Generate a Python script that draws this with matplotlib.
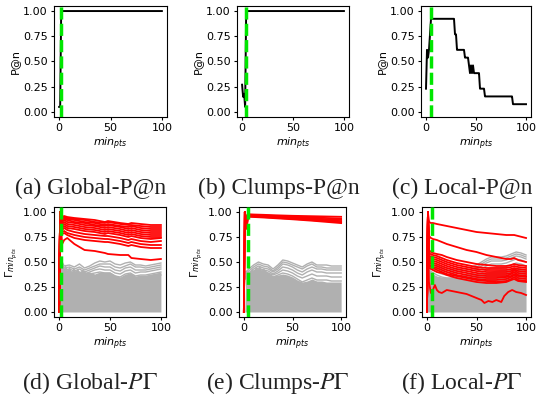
import numpy as np
import matplotlib
matplotlib.use("Agg")
import matplotlib.pyplot as plt

W, H = 537, 401

# P@n curves, stored as run lengths over min_pts = 0..100
global_pn_vals = [0.05, 1.0]
global_pn_runs = [2, 99]
clumps_pn_vals = [0.27, 0.15, 0.18, 0.05, 1.0]
clumps_pn_runs = [1, 1, 1, 1, 97]
local_pn_vals = np.array([3, 8, 7, 8, 10, 12, 10, 8, 7, 6, 5, 6, 5, 6, 5, 3, 2, 1]) / 13
local_pn_runs = [1, 1, 1, 1, 1, 24, 2, 8, 4, 1, 1, 1, 1, 1, 6, 5, 28, 14]

# vertical marker (chosen min_pts)
best_global, best_clumps, best_local = 2, 4, 5

# Global Gamma: outlier curves (red)
g_red_x = [3, 5, 8, 15, 25, 35, 45, 48, 60, 68, 71, 80, 90, 100]
g_red = [
    [0.95, 0.96, 0.95, 0.94, 0.93, 0.92, 0.90, 0.91, 0.89, 0.88, 0.89, 0.88, 0.87, 0.87],
    [0.94, 0.95, 0.94, 0.93, 0.92, 0.90, 0.89, 0.90, 0.88, 0.87, 0.87, 0.86, 0.85, 0.85],
    [0.93, 0.94, 0.93, 0.92, 0.90, 0.89, 0.87, 0.88, 0.86, 0.85, 0.86, 0.84, 0.83, 0.83],
    [0.92, 0.93, 0.92, 0.90, 0.89, 0.87, 0.86, 0.87, 0.85, 0.83, 0.84, 0.82, 0.81, 0.81],
    [0.90, 0.92, 0.90, 0.89, 0.87, 0.86, 0.84, 0.85, 0.83, 0.81, 0.82, 0.80, 0.79, 0.79],
    [0.88, 0.90, 0.88, 0.87, 0.85, 0.84, 0.82, 0.83, 0.81, 0.79, 0.80, 0.78, 0.77, 0.77],
    [0.86, 0.88, 0.86, 0.85, 0.83, 0.82, 0.80, 0.81, 0.79, 0.77, 0.78, 0.76, 0.75, 0.75],
    [0.84, 0.86, 0.84, 0.83, 0.81, 0.80, 0.78, 0.79, 0.77, 0.75, 0.76, 0.74, 0.73, 0.74],
    [0.82, 0.84, 0.82, 0.80, 0.78, 0.77, 0.76, 0.76, 0.74, 0.72, 0.73, 0.71, 0.70, 0.71],
    [0.80, 0.81, 0.79, 0.77, 0.75, 0.74, 0.73, 0.73, 0.71, 0.69, 0.70, 0.68, 0.67, 0.67],
    [0.78, 0.79, 0.77, 0.74, 0.72, 0.71, 0.70, 0.70, 0.68, 0.66, 0.67, 0.65, 0.64, 0.64],
    [0.68, 0.72, 0.74, 0.68, 0.62, 0.61, 0.59, 0.58, 0.57, 0.57, 0.54, 0.53, 0.52, 0.53],
]

# Clumps Gamma: outlier curves (red)
c_red_x = [2, 3, 4, 10, 20, 30, 40, 50, 60, 70, 80, 90, 100]
c_red = [
    [0.95, 0.88, 0.978, 0.975, 0.972, 0.968, 0.965, 0.962, 0.960, 0.958, 0.956, 0.954, 0.952],
    [0.94, 0.87, 0.972, 0.970, 0.966, 0.962, 0.958, 0.954, 0.950, 0.946, 0.942, 0.938, 0.934],
    [0.93, 0.86, 0.968, 0.965, 0.961, 0.956, 0.951, 0.946, 0.941, 0.936, 0.931, 0.926, 0.921],
    [0.92, 0.85, 0.963, 0.960, 0.955, 0.950, 0.945, 0.939, 0.933, 0.927, 0.921, 0.915, 0.909],
    [0.91, 0.84, 0.958, 0.955, 0.950, 0.944, 0.938, 0.932, 0.926, 0.919, 0.912, 0.905, 0.898],
    [0.90, 0.83, 0.953, 0.950, 0.945, 0.939, 0.933, 0.927, 0.920, 0.913, 0.905, 0.897, 0.889],
]

# Local Gamma: outlier curves (red)
l_red_x = [2, 4, 6, 10, 15, 20, 30, 40, 50, 60, 70, 80, 85, 88, 92, 100]
l_red = [
    [0.90, 0.89, 0.89, 0.88, 0.87, 0.86, 0.84, 0.82, 0.80, 0.79, 0.78, 0.77, 0.77, 0.77, 0.76, 0.74],
    [0.76, 0.74, 0.73, 0.72, 0.70, 0.68, 0.65, 0.62, 0.60, 0.57, 0.55, 0.53, 0.53, 0.54, 0.52, 0.50],
    [0.62, 0.60, 0.59, 0.58, 0.57, 0.55, 0.52, 0.50, 0.48, 0.47, 0.46, 0.46, 0.47, 0.48, 0.47, 0.46],
    [0.58, 0.58, 0.57, 0.56, 0.54, 0.52, 0.49, 0.47, 0.45, 0.44, 0.44, 0.44, 0.45, 0.46, 0.45, 0.44],
    [0.55, 0.56, 0.55, 0.54, 0.52, 0.50, 0.47, 0.45, 0.43, 0.42, 0.42, 0.42, 0.43, 0.44, 0.43, 0.42],
    [0.54, 0.54, 0.53, 0.52, 0.50, 0.48, 0.45, 0.43, 0.41, 0.40, 0.40, 0.40, 0.41, 0.43, 0.41, 0.40],
    [0.52, 0.52, 0.51, 0.50, 0.48, 0.46, 0.43, 0.41, 0.39, 0.38, 0.38, 0.38, 0.39, 0.42, 0.39, 0.38],
    [0.50, 0.50, 0.49, 0.48, 0.46, 0.44, 0.41, 0.39, 0.37, 0.36, 0.36, 0.36, 0.38, 0.40, 0.37, 0.36],
    [0.49, 0.48, 0.47, 0.46, 0.44, 0.42, 0.39, 0.37, 0.35, 0.34, 0.34, 0.35, 0.36, 0.38, 0.36, 0.35],
    [0.47, 0.46, 0.45, 0.44, 0.42, 0.40, 0.37, 0.35, 0.33, 0.32, 0.32, 0.33, 0.35, 0.37, 0.34, 0.33],
    [0.46, 0.45, 0.44, 0.42, 0.40, 0.38, 0.36, 0.34, 0.32, 0.31, 0.30, 0.31, 0.33, 0.35, 0.32, 0.31],
    [0.44, 0.43, 0.42, 0.40, 0.39, 0.37, 0.34, 0.32, 0.30, 0.29, 0.29, 0.30, 0.32, 0.33, 0.31, 0.30],
]
l_low_x = [2, 4, 6, 8, 10, 12, 15, 20, 25, 30, 35, 40, 45, 50, 55, 58, 62, 66, 70, 75, 78, 82, 86, 90, 95, 100]
l_low = [0.30, 0.19, 0.22, 0.27, 0.22, 0.20, 0.19, 0.22, 0.21, 0.20, 0.19, 0.18, 0.16, 0.14,
         0.12, 0.09, 0.11, 0.10, 0.12, 0.10, 0.16, 0.20, 0.22, 0.20, 0.19, 0.17]

# inlier curves (grey): dense lower body + top few curves
gray_x = [2, 5, 10, 15, 20, 25, 30, 35, 40, 45, 50, 55, 60, 65, 70, 75, 80, 85, 90, 95, 100]
g_body_x = [0, 1, 2, 4, 6, 8, 10, 12, 14, 16, 18, 20, 23, 26, 30, 35, 40, 45, 50, 55, 60, 65, 70, 75, 80, 85, 90, 95, 100]
g_body = [0, 0.55, 0.50, 0.42, 0.48, 0.42, 0.46, 0.40, 0.45, 0.41, 0.44, 0.40, 0.43, 0.40, 0.40,
          0.38, 0.40, 0.40, 0.40, 0.37, 0.35, 0.38, 0.39, 0.36, 0.37, 0.37, 0.38, 0.39, 0.40]
g_gray = [
    [0.52, 0.46, 0.47, 0.45, 0.48, 0.44, 0.46, 0.49, 0.51, 0.50, 0.51, 0.48, 0.47, 0.49, 0.50, 0.47, 0.47, 0.46, 0.47, 0.48, 0.49],
    [0.50, 0.44, 0.45, 0.43, 0.45, 0.42, 0.44, 0.46, 0.48, 0.48, 0.48, 0.45, 0.44, 0.46, 0.48, 0.45, 0.45, 0.44, 0.45, 0.46, 0.47],
    [0.48, 0.42, 0.43, 0.41, 0.43, 0.40, 0.42, 0.44, 0.46, 0.45, 0.45, 0.42, 0.41, 0.44, 0.45, 0.42, 0.42, 0.42, 0.43, 0.44, 0.45],
    [0.46, 0.40, 0.41, 0.39, 0.40, 0.38, 0.40, 0.42, 0.43, 0.42, 0.42, 0.39, 0.38, 0.41, 0.42, 0.39, 0.40, 0.40, 0.41, 0.42, 0.43],
    [0.44, 0.39, 0.39, 0.37, 0.38, 0.36, 0.38, 0.39, 0.40, 0.39, 0.39, 0.36, 0.35, 0.38, 0.39, 0.36, 0.37, 0.37, 0.38, 0.39, 0.40],
    [0.42, 0.37, 0.37, 0.35, 0.36, 0.34, 0.35, 0.36, 0.37, 0.36, 0.36, 0.33, 0.32, 0.35, 0.36, 0.33, 0.34, 0.34, 0.35, 0.36, 0.37],
]
c_body_x = [1, 2, 4, 6, 8, 10, 12, 14, 16, 18, 20, 23, 26, 30, 35, 40, 45, 50, 55, 60, 65, 70, 75, 80, 85, 90, 95, 100]
c_body = [0, 0.40, 0.42, 0.40, 0.44, 0.41, 0.46, 0.43, 0.47, 0.42, 0.44, 0.41, 0.39, 0.36, 0.37,
          0.38, 0.37, 0.35, 0.32, 0.30, 0.31, 0.33, 0.31, 0.31, 0.30, 0.30, 0.30, 0.30]
c_gray = [
    [0.40, 0.43, 0.47, 0.50, 0.48, 0.47, 0.43, 0.47, 0.52, 0.51, 0.49, 0.47, 0.45, 0.48, 0.50, 0.47, 0.47, 0.47, 0.46, 0.46, 0.46],
    [0.38, 0.41, 0.45, 0.48, 0.46, 0.45, 0.41, 0.45, 0.50, 0.49, 0.47, 0.45, 0.43, 0.46, 0.48, 0.45, 0.45, 0.44, 0.44, 0.44, 0.44],
    [0.36, 0.39, 0.43, 0.46, 0.44, 0.43, 0.40, 0.43, 0.48, 0.47, 0.45, 0.42, 0.40, 0.43, 0.45, 0.43, 0.43, 0.42, 0.42, 0.42, 0.42],
    [0.35, 0.38, 0.41, 0.44, 0.42, 0.41, 0.38, 0.41, 0.45, 0.44, 0.42, 0.39, 0.37, 0.40, 0.42, 0.40, 0.40, 0.39, 0.39, 0.39, 0.39],
    [0.34, 0.37, 0.40, 0.42, 0.40, 0.39, 0.37, 0.39, 0.42, 0.41, 0.39, 0.36, 0.34, 0.36, 0.38, 0.36, 0.36, 0.36, 0.35, 0.35, 0.35],
    [0.33, 0.36, 0.38, 0.40, 0.38, 0.37, 0.35, 0.37, 0.39, 0.38, 0.36, 0.33, 0.30, 0.32, 0.34, 0.32, 0.32, 0.32, 0.31, 0.31, 0.31],
]
l_body_x = [0, 1, 2, 4, 6, 10, 15, 20, 30, 40, 50, 60, 70, 80, 90, 100]
l_body = [0, 0.45, 0.42, 0.40, 0.38, 0.36, 0.35, 0.35, 0.36, 0.36, 0.38, 0.40, 0.42, 0.43, 0.45, 0.43]
l_gray = [
    [0.52, 0.50, 0.47, 0.45, 0.44, 0.43, 0.43, 0.43, 0.44, 0.45, 0.47, 0.50, 0.53, 0.55, 0.55, 0.55, 0.56, 0.58, 0.60, 0.59, 0.57],
    [0.50, 0.48, 0.45, 0.43, 0.42, 0.41, 0.41, 0.41, 0.42, 0.43, 0.45, 0.48, 0.51, 0.53, 0.53, 0.53, 0.54, 0.56, 0.58, 0.57, 0.55],
    [0.48, 0.46, 0.43, 0.41, 0.40, 0.39, 0.39, 0.39, 0.40, 0.41, 0.43, 0.46, 0.49, 0.51, 0.51, 0.51, 0.52, 0.54, 0.56, 0.55, 0.53],
    [0.45, 0.43, 0.40, 0.38, 0.37, 0.36, 0.36, 0.36, 0.37, 0.38, 0.40, 0.43, 0.46, 0.48, 0.48, 0.48, 0.49, 0.51, 0.53, 0.52, 0.50],
    [0.42, 0.40, 0.37, 0.35, 0.34, 0.33, 0.33, 0.33, 0.34, 0.35, 0.37, 0.39, 0.42, 0.44, 0.44, 0.44, 0.45, 0.47, 0.49, 0.48, 0.46],
]

captions_top = ["(a) Global-P@n", "(b) Clumps-P@n", "(c) Local-P@n"]
captions_bot = [r"(d) Global-$P\Gamma$", r"(e) Clumps-$P\Gamma$", r"(f) Local-$P\Gamma$"]

GRAY = "#b0b0b0"
GREEN = "#00e600"

fig = plt.figure(figsize=(W / 100, H / 100), dpi=100)


def add_ax(l, t, r, b):
    return fig.add_axes([l / W, 1 - b / H, (r - l) / W, (b - t) / H])


def style(ax, ylabel):
    ax.set_xlim(-5, 105)
    ax.set_ylim(-0.05, 1.05)
    ax.set_xticks([0, 50, 100])
    ax.set_yticks([0, 0.25, 0.5, 0.75, 1.0])
    ax.set_yticklabels(["0.00", "0.25", "0.50", "0.75", "1.00"])
    ax.tick_params(labelsize=8, length=2.5, width=0.8, pad=2)
    for s in ax.spines.values():
        s.set_linewidth(0.8)
    ax.set_xlabel(r"$min_{pts}$", fontsize=8, labelpad=2)
    ax.set_ylabel(ylabel, fontsize=8, labelpad=2)


def vmark(ax, x):
    ax.axvline(x, color=GREEN, lw=2.5, linestyle=(0, (3.5, 1.2)), zorder=5)


x_all = np.arange(101)

# top row: P@n
top_axes = [add_ax(54, 6, 167, 117), add_ax(237, 6, 349, 117), add_ax(421, 6, 531, 117)]
pn = [(global_pn_vals, global_pn_runs, best_global),
      (clumps_pn_vals, clumps_pn_runs, best_clumps),
      (local_pn_vals, local_pn_runs, best_local)]
for ax, (vals, runs, best) in zip(top_axes, pn):
    ax.plot(x_all, np.repeat(vals, runs), color="black", lw=1.4)
    vmark(ax, best)
    style(ax, "P@n")

# bottom row: Gamma curves
bot_axes = [add_ax(54, 207, 166, 317), add_ax(239, 207, 346, 317), add_ax(422, 207, 531, 317)]
panels = [
    (g_body_x, g_body, g_gray, [(g_red_x, r) for r in g_red], best_global),
    (c_body_x, c_body, c_gray, [(c_red_x, r) for r in c_red], best_clumps),
    (l_body_x, l_body, l_gray, [(l_red_x, r) for r in l_red] + [(l_low_x, l_low)], best_local),
]
for ax, (bx, by, grays, reds, best) in zip(bot_axes, panels):
    ax.fill_between(bx, 0, by, color=GRAY, lw=0)
    for gy in grays:
        ax.plot(gray_x, gy, color=GRAY, lw=1.0)
    for rx, ry in reds:
        ax.plot([0, 1] + list(rx), [0, 1.0] + list(ry), color="red", lw=1.3)
    vmark(ax, best)
    style(ax, r"$\Gamma_{min_{pts}}$")

cap_kw = dict(ha="center", va="center", fontsize=17, color="#222222",
              family="Liberation Serif", math_fontfamily="stix")
for cx, txt in zip([91, 279, 462], captions_top):
    fig.text(cx / W, 1 - 188 / H, txt, **cap_kw)
for cx, txt in zip([90, 278, 462], captions_bot):
    fig.text(cx / W, 1 - 383 / H, txt, **cap_kw)

fig.savefig("out.png", dpi=100)
